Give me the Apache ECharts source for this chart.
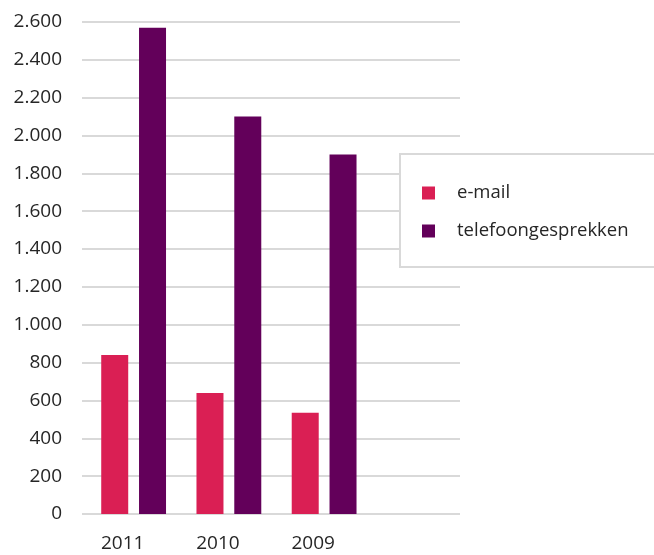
<!DOCTYPE html>
<html>
<head>
<meta charset="utf-8">
<script src="https://cdn.jsdelivr.net/npm/echarts@6/dist/echarts.min.js"></script>
<style>html,body{margin:0;padding:0;background:#fff}#c{width:654px;height:555px}</style>
</head>
<body>
<div id="c"></div>
<script>
const categories = ['2011', '2010', '2009', ''];
const seriesNames = ['e-mail', 'telefoongesprekken'];
const emailValues = [840, 640, 535, null];
const telefoonValues = [2570, 2100, 1900, null];
const yMin = 0, yMax = 2600, yStep = 200;

const font = '"Open Sans", "Noto Sans", sans-serif';
const textColor = '#262626';
const chart = echarts.init(document.getElementById('c'), null, {renderer: 'canvas'});
function fmt(v) { return String(v).replace(/\B(?=(\d{3})+(?!\d))/g, '.'); }

chart.setOption({
  animation: false,
  backgroundColor: '#ffffff',
  grid: [
    {left: 82, top: 22, width: 378, height: 492},
    {left: 86, top: 22, width: 381, height: 492}
  ],
  xAxis: [
    {gridIndex: 0, type: 'category', data: categories, show: false},
    {gridIndex: 1, type: 'category', data: categories,
     axisLine: {show: false}, axisTick: {show: false},
     axisLabel: {fontFamily: font, fontSize: 19, color: textColor, margin: 20, padding: [0, 22, 0, 0]}}
  ],
  yAxis: [
    {gridIndex: 0, type: 'value', min: yMin, max: yMax, interval: yStep,
     axisLine: {show: false}, axisTick: {show: false},
     splitLine: {lineStyle: {color: '#d9d9d9', width: 2}},
     axisLabel: {fontFamily: font, fontSize: 19, color: textColor, margin: 20, formatter: fmt}},
    {gridIndex: 1, type: 'value', min: yMin, max: yMax, interval: yStep, show: false, splitLine: {show: false}}
  ],
  legend: {
    data: seriesNames,
    orient: 'vertical',
    left: 400, top: 154,
    padding: [29, 60, 26, 22],
    itemGap: 18,
    itemWidth: 13, itemHeight: 13,
    icon: 'rect',
    selectedMode: false,
    borderColor: '#d9d9d9', borderWidth: 2,
    backgroundColor: '#ffffff',
    textStyle: {fontFamily: font, fontSize: 18.5, color: textColor, lineHeight: 20, padding: [0, 0, 0, 17]}
  },
  series: [
    {name: seriesNames[0], type: 'bar', xAxisIndex: 1, yAxisIndex: 1, data: emailValues,
     barWidth: 27, barGap: '40%', itemStyle: {color: '#da1f54'}},
    {name: seriesNames[1], type: 'bar', xAxisIndex: 1, yAxisIndex: 1, data: telefoonValues,
     barWidth: 27, barGap: '40%', itemStyle: {color: '#63005a'}}
  ]
});
</script>
</body>
</html>
